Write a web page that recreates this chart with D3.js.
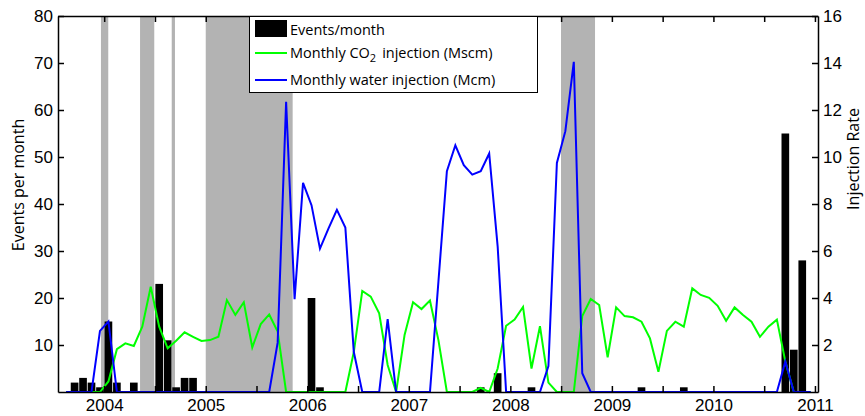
<!DOCTYPE html>
<html>
<head>
<meta charset="utf-8">
<script src="https://cdn.jsdelivr.net/npm/d3@7"></script>
<style>
  body { margin: 0; background: #fff; }
  svg { font-family: "Open Sans", sans-serif; }
  .axis path, .axis line { stroke: #000; stroke-width: 1.5; }
  .axis text { font-size: 17px; fill: #000; }
</style>
</head>
<body>
<div id="chart"></div>
<script>
// first month of every series: Aug 2003, one value per month up to Dec 2010
let startYear = 2003;
let startMonth = 8;

// events per month (left axis)
let events = [
  0, 2, 3, 2, 1,                                   // 2003 Aug-Dec
  15, 2, 0, 2, 0, 0, 23, 11, 1, 3, 3, 0,           // 2004
  0, 0, 0, 0, 0, 0, 0, 0, 0, 0, 0, 0,              // 2005
  20, 1, 0, 0, 0, 0, 0, 0, 0, 0, 0, 0,             // 2006
  0, 0, 0, 0, 0, 0, 0, 0, 1, 0, 4, 0,              // 2007
  0, 0, 1, 0, 0, 0, 0, 0, 0, 0, 0, 0,              // 2008
  0, 0, 0, 1, 0, 0, 0, 0, 1, 0, 0, 0,              // 2009
  0, 0, 0, 0, 0, 0, 0, 0, 55, 9, 28, 0             // 2010
];

// monthly CO2 injection, Mscm (right axis)
let co2 = [
  0, 0, 0, 0, 0,
  0.45, 1.82, 2.07, 1.96, 2.78, 4.48, 2.78, 1.86, 2.18, 2.54, 2.35, 2.17,
  2.21, 2.35, 3.91, 3.28, 3.82, 1.9, 2.89, 3.3, 2.57, 0, 0, 0,
  0, 0, 0, 0, 0, 1.7, 4.3, 4.06, 3.35, 1.15, 0, 2.43,
  3.82, 3.53, 3.89, 2.21, 0, 0, 0, 0, 0.18, 0, 1.0, 2.82,
  3.08, 3.62, 1.0, 2.8, 0.4, 0, 0, 0, 3.23, 3.96, 3.7, 1.48,
  3.6, 3.23, 3.18, 2.99, 2.28, 0.86, 2.6, 2.99, 2.78, 4.41, 4.13, 4.01,
  3.67, 3.03, 3.6, 3.28, 2.99, 2.35, 2.78, 3.08, 1.3, 0, 0, 0
];

// monthly water injection, Mcm (right axis)
let water = [
  0, 0, 0, 0, 2.6,
  3.0, 0, 0, 0, 0, 0, 0, 0, 0, 0, 0, 0,
  0, 0, 0, 0, 0, 0, 0, 0, 2.1, 12.35, 3.95, 8.9,
  7.95, 6.1, 6.95, 7.75, 7.0, 1.7, 0, 0, 0, 3.1, 0, 0,
  0, 0, 0, 4.7, 9.4, 10.5, 9.65, 9.25, 9.4, 10.15, 6.2, 0,
  0, 0, 0, 0, 1.1, 9.75, 11.1, 14.05, 0.8, 0, 0, 0,
  0, 0, 0, 0, 0, 0, 0, 0, 0, 0, 0, 0,
  0, 0, 0, 0, 0, 0, 0, 0, 1.3, 0, 0, 0
];

// grey shaded periods, decimal years
let shadeStart = [2003.968, 2004.353, 2004.665, 2005.0, 2008.499];
let shadeEnd = [2004.040, 2004.493, 2004.697, 2005.856, 2008.834];

let leftTicks = [10, 20, 30, 40, 50, 60, 70, 80];
let rightTicks = [2, 4, 6, 8, 10, 12, 14, 16];
let yearLabels = [2004, 2005, 2006, 2007, 2008, 2009, 2010, 2011];
let halfYearTicks = [2004, 2004.5, 2005, 2005.5, 2006, 2006.5, 2007, 2007.5, 2008, 2008.5, 2009, 2009.5, 2010, 2010.5, 2011];

let legendLabels = ["Events/month", "Monthly CO", "Monthly water injection (Mcm)"];

//-------------------------------------------------------
let W = 865, H = 416;
let mLeft = 58, mRight = 818, mTop = 16, mBottom = 392;

let svg = d3.select("#chart").append("svg").attr("width", W).attr("height", H);

let x = d3.scaleLinear().domain([2003.545, 2011.03]).range([mLeft, mRight]);
let yL = d3.scaleLinear().domain([0, 80]).range([mBottom, mTop]);
let yR = d3.scaleLinear().domain([0, 16]).range([mBottom, mTop]);

// time of the middle of month i
let monthMid = (i) => startYear + (startMonth - 1 + i + 0.5) / 12;
let monthW = x(2004 + 1 / 12) - x(2004);

// shaded periods
svg.append("g").selectAll("rect")
  .data(shadeStart)
  .join("rect")
  .attr("x", (d) => x(d))
  .attr("y", mTop)
  .attr("width", (d, i) => x(shadeEnd[i]) - x(d))
  .attr("height", mBottom - mTop)
  .attr("fill", "#b3b3b3");

// event bars
let bw = monthW - 0.8;
svg.append("g").selectAll("rect")
  .data(events)
  .join("rect")
  .attr("x", (d, i) => x(monthMid(i)) - bw / 2)
  .attr("y", (d) => yL(d))
  .attr("width", bw)
  .attr("height", (d) => mBottom - yL(d))
  .attr("fill", "#000");

let line = d3.line()
  .x((d, i) => x(monthMid(i)))
  .y((d) => yR(d));

svg.append("path")
  .attr("d", line(co2))
  .attr("fill", "none")
  .attr("stroke", "#00ff00")
  .attr("stroke-width", 2);

svg.append("path")
  .attr("d", line(water))
  .attr("fill", "none")
  .attr("stroke", "#0000ff")
  .attr("stroke-width", 2);

// axes, ticks pointing inside like matlab
svg.append("g").attr("class", "axis")
  .attr("transform", `translate(${mLeft},0)`)
  .call(d3.axisLeft(yL).tickValues(leftTicks).tickSizeInner(-6).tickSizeOuter(0).tickPadding(5));

svg.append("g").attr("class", "axis")
  .attr("transform", `translate(${mRight},0)`)
  .call(d3.axisRight(yR).tickValues(rightTicks).tickSizeInner(-6).tickSizeOuter(0).tickPadding(5));

svg.append("g").attr("class", "axis")
  .attr("transform", `translate(0,${mBottom})`)
  .call(d3.axisBottom(x).tickValues(halfYearTicks).tickSizeInner(-6).tickSizeOuter(0).tickPadding(7)
    .tickFormat((d) => yearLabels.includes(d) ? d : ""));

svg.append("g").attr("class", "axis")
  .attr("transform", `translate(0,${mTop})`)
  .call(d3.axisTop(x).tickValues(halfYearTicks).tickSizeInner(-6).tickSizeOuter(0).tickFormat(""));

// axis titles
svg.append("text")
  .attr("transform", "translate(24,185) rotate(-90)")
  .attr("text-anchor", "middle")
  .style("font-size", "16px")
  .text("Events per month");

svg.append("text")
  .attr("transform", "translate(859,159) rotate(-90)")
  .attr("text-anchor", "middle")
  .style("font-size", "16px")
  .text("Injection Rate");

// legend
let lg = svg.append("g");
lg.append("rect")
  .attr("x", 249.5).attr("y", 16.5).attr("width", 288).attr("height", 76)
  .attr("fill", "#fff").attr("stroke", "#000").attr("stroke-width", 1);

lg.append("rect")
  .attr("x", 255).attr("y", 20).attr("width", 32).attr("height", 17)
  .attr("fill", "#000");
lg.append("line")
  .attr("x1", 255).attr("x2", 287).attr("y1", 53).attr("y2", 53)
  .attr("stroke", "#00ff00").attr("stroke-width", 2);
lg.append("line")
  .attr("x1", 255).attr("x2", 287).attr("y1", 80).attr("y2", 80)
  .attr("stroke", "#0000ff").attr("stroke-width", 2);

lg.append("text").attr("x", 290).attr("y", 35).style("font-size", "14.5px").text(legendLabels[0]);

let co2Text = lg.append("text").attr("x", 290).attr("y", 58).style("font-size", "14.5px");
co2Text.append("tspan").text(legendLabels[1]);
co2Text.append("tspan").attr("dy", 4).style("font-size", "11px").text("2");
co2Text.append("tspan").attr("dy", -4).attr("dx", 6).text("injection (Mscm)");

lg.append("text").attr("x", 290).attr("y", 85).style("font-size", "14.5px").text(legendLabels[2]);
</script>
</body>
</html>
